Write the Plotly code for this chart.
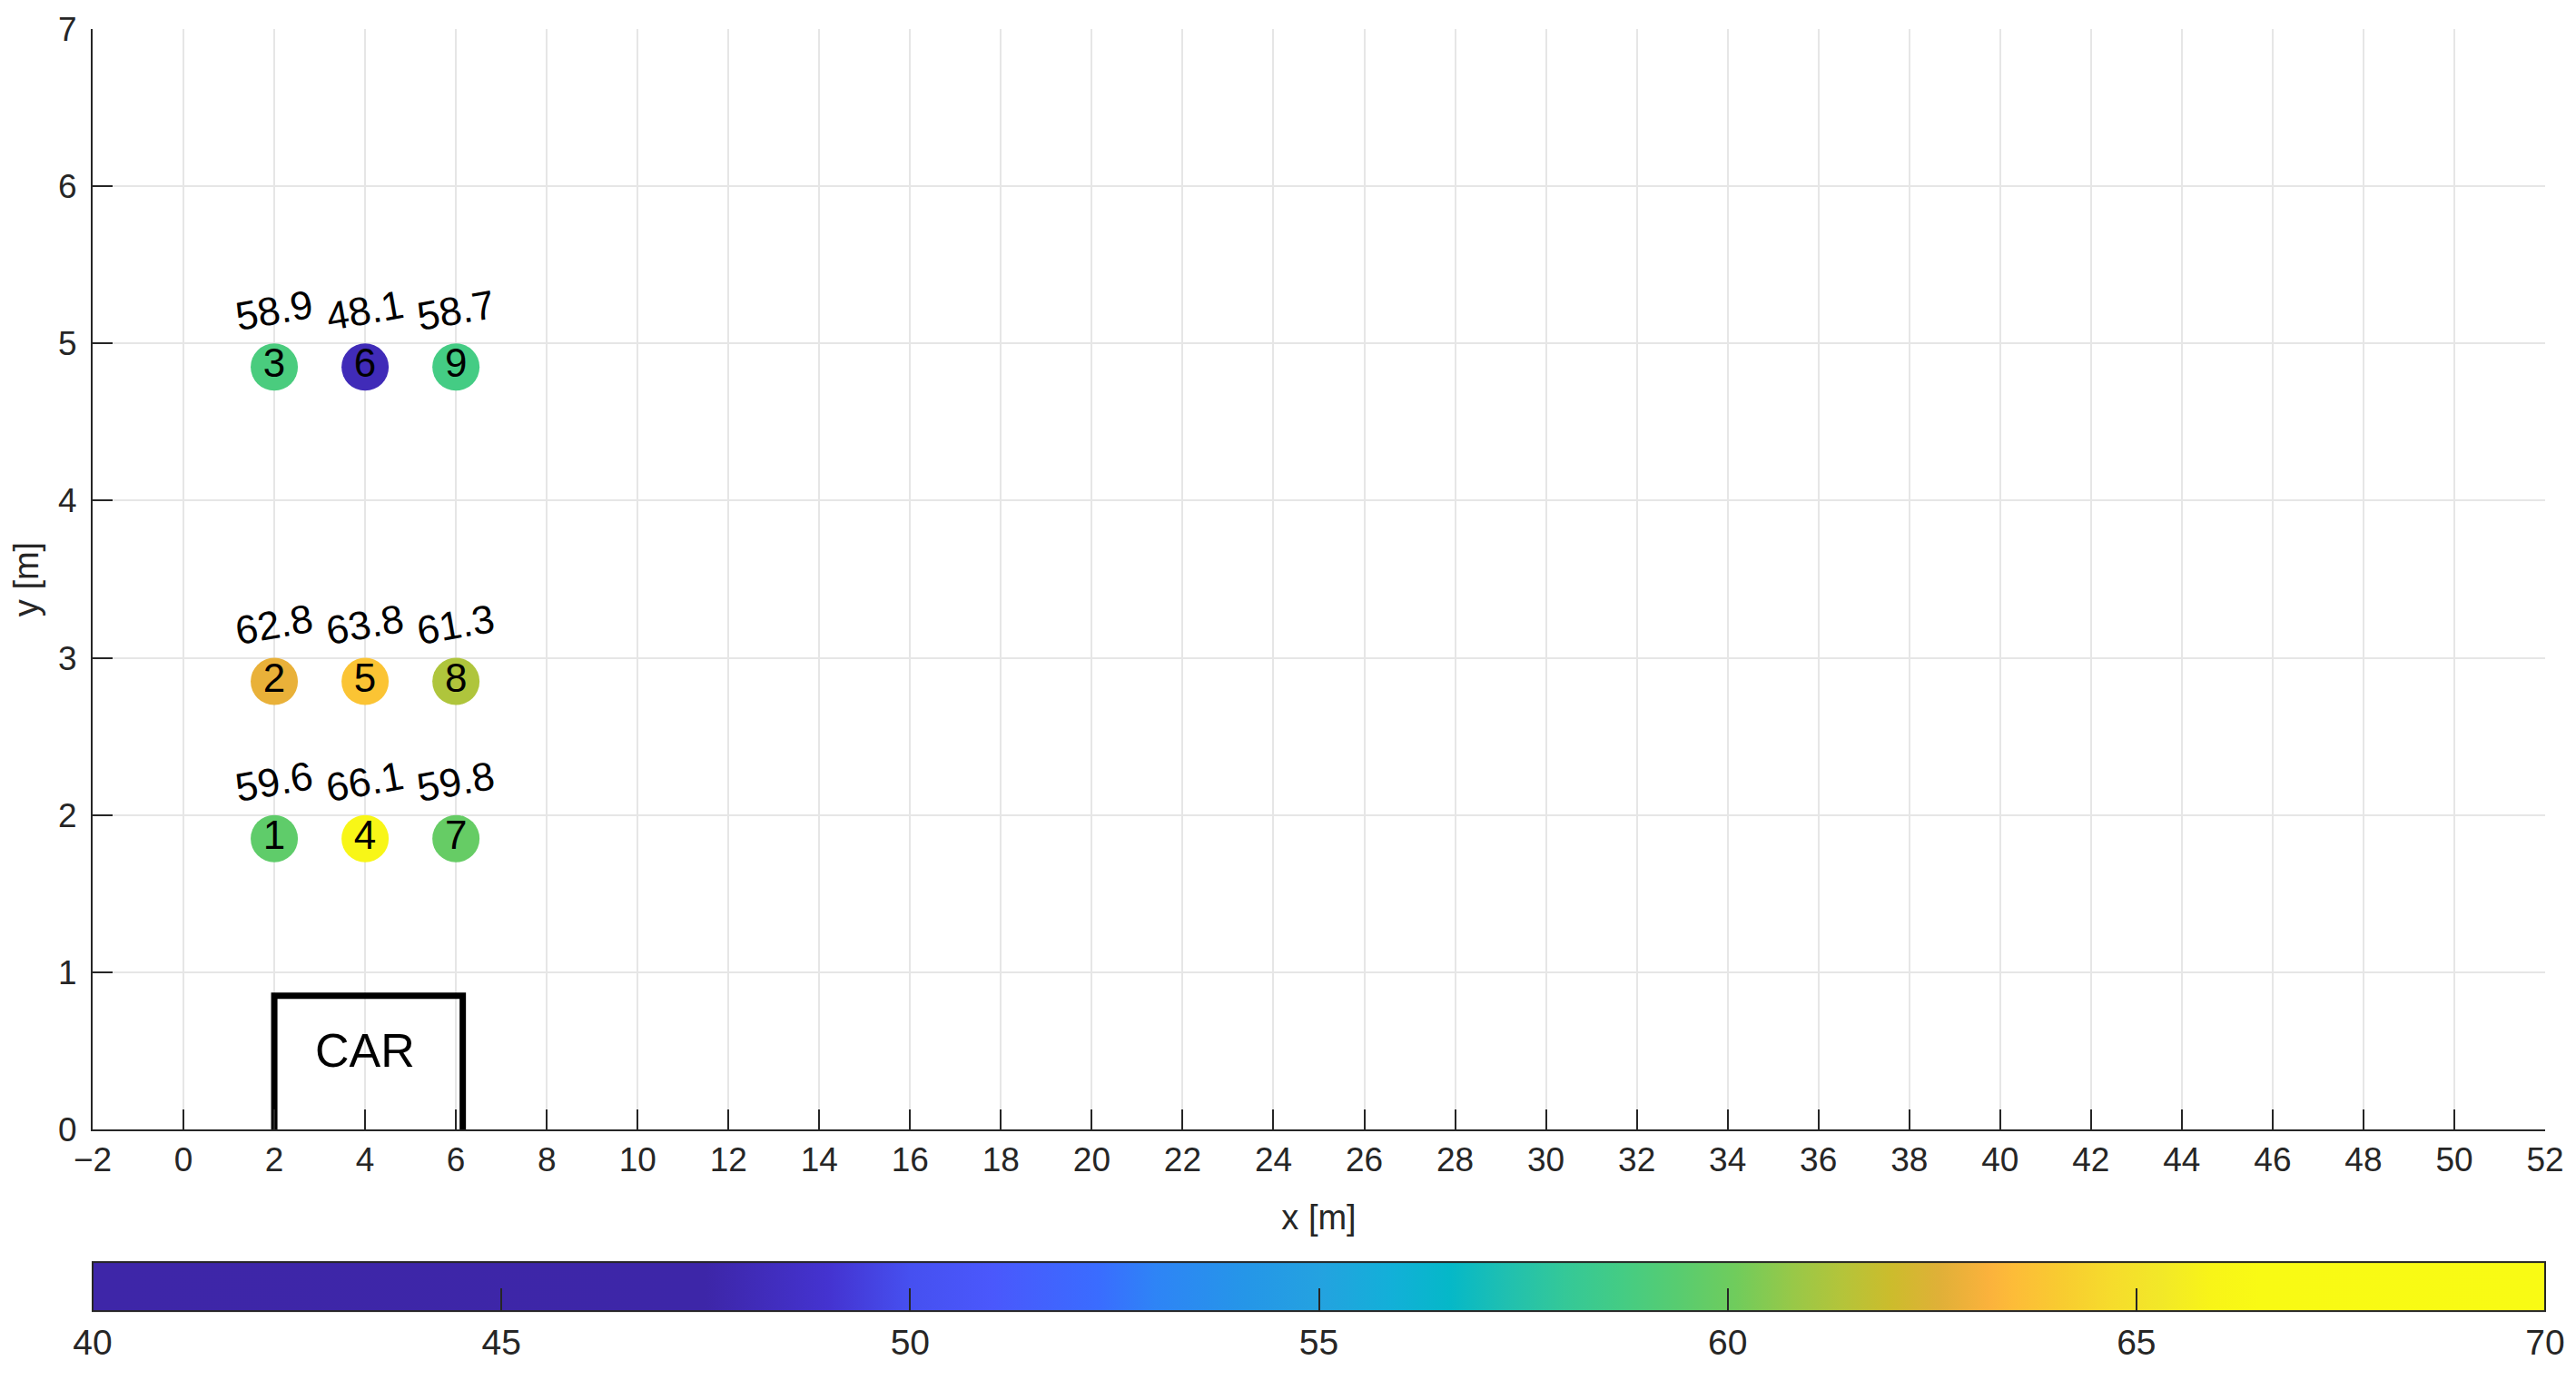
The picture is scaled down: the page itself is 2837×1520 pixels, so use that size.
import plotly.graph_objects as go

# measurement points (number, position, value)
point_ids = ["1", "2", "3", "4", "5", "6", "7", "8", "9"]
point_x = [2, 2, 2, 4, 4, 4, 6, 6, 6]
point_y = [1.85, 2.85, 4.85, 1.85, 2.85, 4.85, 1.85, 2.85, 4.85]
point_val = [59.6, 62.8, 58.9, 66.1, 63.8, 48.1, 59.8, 61.3, 58.7]

# car outline
car_x = [2, 2, 6.15, 6.15]
car_y = [0, 0.85, 0.85, 0]
car_label_x = 4.0
car_label_y = 0.5

x_ticks = list(range(-2, 53, 2))
y_ticks = list(range(0, 8))
cbar_ticks = [40, 45, 50, 55, 60, 65, 70]
cmin, cmax = 40, 70

# colour stops (value -> colour)
stop_vals = [40, 47.5, 49, 50, 51, 52.3, 53, 54.1, 55, 55.9, 56.6, 57.3, 58, 58.7,
             59.4, 60.1, 60.8, 61.4, 62, 62.6, 63.2, 63.5, 64.1, 64.7, 65.3, 65.9, 66.5, 70]
stop_cols = ["#3E26A8", "#3D26A8", "#4433D0", "#4650F0", "#4A58FC", "#3A6CFF", "#2E84F6",
             "#2596E8", "#24A2E0", "#12B0D8", "#05B8C8", "#20C0B0", "#34C898", "#44CC84",
             "#58CC70", "#70CC5C", "#98C848", "#B4C43A", "#CCBC2C", "#E0B038", "#FBB23C",
             "#FDBC38", "#F8CC30", "#F6DC2C", "#F2E828", "#F8F418", "#F9FA14", "#F9FB14"]
colorscale = [[(v - cmin) / (cmax - cmin), c] for v, c in zip(stop_vals, stop_cols)]

FONT = "Liberation Sans, Arial, sans-serif"
AXIS_COLOR = "#262626"

fig = go.Figure()

fig.add_trace(go.Scatter(
    x=car_x, y=car_y, mode="lines",
    line=dict(color="black", width=7),
    cliponaxis=False, showlegend=False, hoverinfo="skip",
))

fig.add_trace(go.Scatter(
    x=point_x, y=point_y, mode="markers+text",
    text=point_ids, textposition="middle center",
    textfont=dict(family=FONT, size=44, color="black"),
    marker=dict(
        size=52, color=point_val, colorscale=colorscale, cmin=cmin, cmax=cmax,
        line=dict(width=0),
        colorbar=dict(
            orientation="h", x=0.5, xanchor="center", y=-0.177, yanchor="middle",
            len=1.0, lenmode="fraction", thickness=54, xpad=0, ypad=0,
            outlinecolor=AXIS_COLOR, outlinewidth=2,
            tickmode="array", tickvals=cbar_ticks, ticktext=[str(t) for t in cbar_ticks],
            ticks="inside", ticklen=26, tickcolor=AXIS_COLOR, tickwidth=2,
            ticklabelposition="outside bottom",
            tickfont=dict(family=FONT, size=39, color=AXIS_COLOR),
        ),
    ),
    showlegend=False,
))

for x, y, v in zip(point_x, point_y, point_val):
    fig.add_annotation(
        x=x, y=y, text=f"{v:.1f}", showarrow=False, yshift=63,
        textangle=-10, font=dict(family=FONT, size=44, color="black"),
    )

fig.add_annotation(
    x=car_label_x, y=car_label_y, text="CAR", showarrow=False,
    font=dict(family=FONT, size=52, color="black"),
)

axis_common = dict(
    showgrid=True, gridcolor="#E6E6E6", gridwidth=2,
    showline=True, linecolor=AXIS_COLOR, linewidth=2,
    ticks="inside", ticklen=22, tickwidth=2, tickcolor=AXIS_COLOR,
    tickfont=dict(family=FONT, size=37, color=AXIS_COLOR),
    zeroline=False, mirror=False,
)

fig.update_xaxes(
    range=[-2, 52], tickmode="array", tickvals=x_ticks,
    title=dict(text="x [m]", font=dict(family=FONT, size=38, color=AXIS_COLOR), standoff=30),
    **axis_common,
)
fig.update_yaxes(
    range=[0, 7], tickmode="array", tickvals=y_ticks, ticklabelstandoff=8,
    title=dict(text="y [m]", font=dict(family=FONT, size=38, color=AXIS_COLOR), standoff=10),
    **axis_common,
)

fig.update_layout(
    width=2837, height=1520,
    margin=dict(l=94, r=42, t=24, b=284, autoexpand=False),
    plot_bgcolor="white", paper_bgcolor="white",
)

fig.write_html("out.html")
